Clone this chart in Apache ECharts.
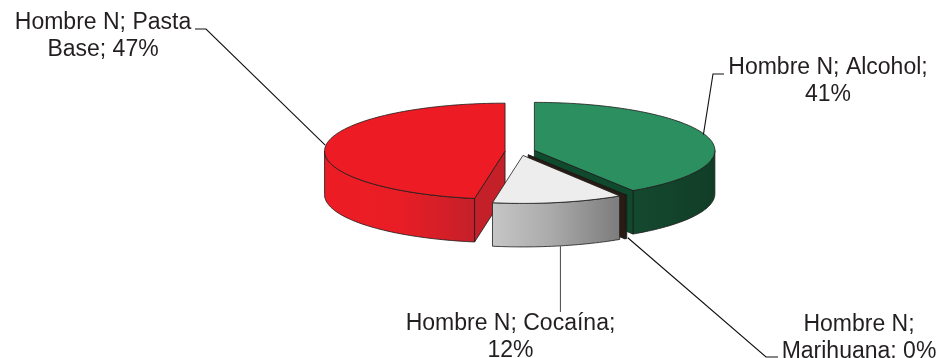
<!DOCTYPE html>
<html><head><meta charset="utf-8">
<style>html,body{margin:0;padding:0;background:#fff}#c{width:941px;height:358px}</style>
<script src="https://cdn.jsdelivr.net/npm/echarts@6/dist/echarts.min.js"></script>
</head><body><div id="c"></div>
<script>
// Data, clockwise from 12 o'clock
const seriesName = 'Hombre N';
const categories = ['Alcohol', 'Marihuana', 'Cocaína', 'Pasta Base'];
const values = [40.8, 0.2, 11.7, 47.3];
const labelLines = [
  ['Hombre N; Alcohol;', '41%'],
  ['Hombre N;', 'Marihuana; 0%'],
  ['Hombre N; Cocaína;', '12%'],
  ['Hombre N; Pasta', 'Base; 47%']
];

// Layout / style
const CX = 520, CY = 151.5, RX = 180.5, RY = 48, DEPTH = 43.5, EXPLODE = 15;
const paintOrder = [0, 3, 1, 2];
const topColors = ['#2C8F60', '#2A1C12', '#EDEDED', '#ED1C24'];
const faceColors = ['#0F4A2C', '#2A1C12', '#8A8A8A', '#C4202A'];
const wallStops = [
  [[0, '#14492F'], [1, '#113D27']],
  [[0, '#2A1C12'], [1, '#2A1C12']],
  [[0, '#C6C6C6'], [0.45, '#ABABAB'], [1, '#7C7C7C']],
  [[0, '#ED1C24'], [0.5, '#E91D25'], [1, '#C4202A']]
];
const labelPos = [[828, 81], [859, 338], [510.5, 337.5], [103, 36]];
const leaderPath = [
  [[713, 74], [724, 74]],
  [[766, 357], [778, 357]],
  [[559, 312]],
  [[206, 29], [195, 29]]
];
const anchorShift = [[-4, -2], [2, -1], [2, 0], [0, -2]];
const leaderColors = ['#111', '#111', '#555', '#111'];
const FONT = '"Liberation Sans", Arimo, Arial, sans-serif';

const total = values.reduce((a, b) => a + b, 0);
const rad = d => d * Math.PI / 180;
const slices = [];
let acc = 0;
values.forEach((v, i) => {
  const a0 = acc, a1 = acc + v / total * 360;
  acc = a1;
  const mid = rad((a0 + a1) / 2);
  slices.push({
    a0, a1, mid,
    cx: CX + EXPLODE * Math.sin(mid),
    cy: CY - EXPLODE * Math.cos(mid) * RY / RX
  });
});
const rim = (s, deg, dz) => [s.cx + RX * Math.sin(rad(deg)), s.cy - RY * Math.cos(rad(deg)) + (dz || 0)];
function arc(s, from, to, dz) {
  const n = Math.max(2, Math.ceil((to - from) / 1.5));
  const p = [];
  for (let k = 0; k <= n; k++) p.push(rim(s, from + (to - from) * k / n, dz));
  return p;
}
const EDGE = { stroke: '#1c1c1c', lineWidth: 0.8, lineJoin: 'round' };

function renderItem(params) {
  const i = params.dataIndex, s = slices[i];
  const z = paintOrder.indexOf(i) * 10 + 10;
  const ch = [];
  const lo = Math.max(s.a0, 90), hi = Math.min(s.a1, 270);
  if (hi > lo) {
    const pts = arc(s, lo, hi, 0).concat(arc(s, lo, hi, DEPTH).reverse());
    ch.push({ type: 'polygon', z2: z, shape: { points: pts },
      style: Object.assign({ fill: new echarts.graphic.LinearGradient(0, 0, 1, 0, wallStops[i].map(c => ({ offset: c[0], color: c[1] }))) }, EDGE) });
  }
  const face = deg => {
    const r = rim(s, deg);
    ch.push({ type: 'polygon', z2: z + 1,
      shape: { points: [[s.cx, s.cy], r, [r[0], r[1] + DEPTH], [s.cx, s.cy + DEPTH]] },
      style: Object.assign({ fill: faceColors[i] }, EDGE) });
  };
  if (Math.sin(rad(s.a1)) > 0.001) face(s.a1);
  if (Math.sin(rad(s.a0)) < -0.001) face(s.a0);
  ch.push({ type: 'polygon', z2: z + 2,
    shape: { points: [[s.cx, s.cy]].concat(arc(s, s.a0, s.a1, 0)) },
    style: Object.assign({ fill: topColors[i] }, EDGE) });

  // leader line: anchored at the slice's mid angle on the rim
  const deg = (s.a0 + s.a1) / 2;
  const onWall = deg > 90 && deg < 270;
  const a = rim(s, deg, onWall ? DEPTH : 0);
  const start = [a[0] + anchorShift[i][0], a[1] + anchorShift[i][1]];
  const pts = [start].concat(leaderPath[i]);
  if (i === 2) pts[1] = [start[0], leaderPath[i][0][1]];
  ch.push({ type: 'polyline', z2: 60,
    shape: { points: pts },
    style: { stroke: leaderColors[i], lineWidth: 1.1, fill: null } });
  ch.push({ type: 'text', z2: 61, style: {
    text: labelLines[i].join('\n'), x: labelPos[i][0], y: labelPos[i][1],
    align: 'center', verticalAlign: 'middle',
    fontFamily: FONT, fontSize: 23, lineHeight: 27, fill: '#231F20' } });
  return { type: 'group', children: ch };
}

const chart = echarts.init(document.getElementById('c'), null, { renderer: 'canvas' });
chart.setOption({
  animation: false,
  backgroundColor: '#fff',
  series: [{
    type: 'custom',
    name: seriesName,
    coordinateSystem: 'none',
    silent: true,
    renderItem,
    data: categories.map((c, i) => ({ name: c, value: values[i] }))
  }]
});
</script></body></html>
